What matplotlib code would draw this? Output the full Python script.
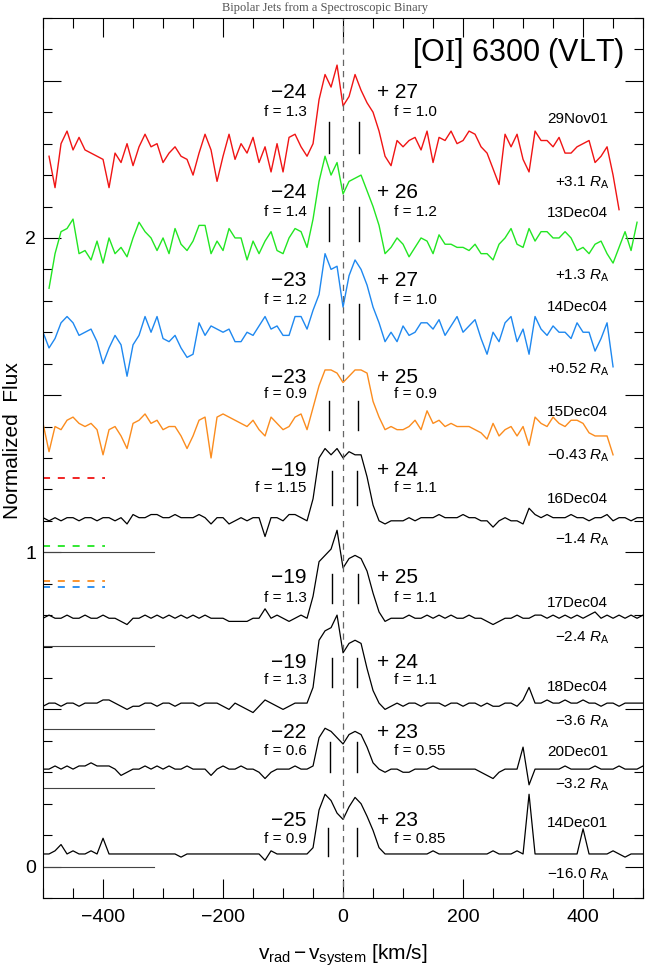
import numpy as np
import matplotlib
matplotlib.use("Agg")
import matplotlib.pyplot as plt
from matplotlib.ticker import MultipleLocator, FuncFormatter

plt.rcParams['font.family'] = ['Liberation Sans', 'DejaVu Sans']
plt.rcParams['mathtext.fontset'] = 'custom'
plt.rcParams['mathtext.rm'] = 'Liberation Serif'
plt.rcParams['mathtext.it'] = 'Liberation Sans:italic'
plt.rcParams['mathtext.sf'] = 'Liberation Sans'
plt.rcParams['mathtext.bf'] = 'Liberation Sans:bold'

# ---------------- data (flux sampled every 10 km/s) ----------------
red_v0 = -490
red_flux = [2.26, 2.16, 2.30, 2.34, 2.28, 2.32, 2.28, 2.27, 2.26, 2.25,
            2.16, 2.27, 2.24, 2.30, 2.23, 2.29, 2.33, 2.29, 2.30, 2.24,
            2.27, 2.29, 2.26, 2.25, 2.20, 2.27, 2.33, 2.28, 2.18, 2.26,
            2.33, 2.25, 2.30, 2.27, 2.32, 2.24, 2.29, 2.21, 2.30, 2.21,
            2.32, 2.33, 2.29, 2.26, 2.30, 2.44, 2.52, 2.48, 2.55, 2.42,
            2.45, 2.52, 2.47, 2.43, 2.40, 2.34, 2.26, 2.23, 2.31, 2.29,
            2.31, 2.32, 2.28, 2.34, 2.24, 2.32, 2.31, 2.34, 2.30, 2.31,
            2.34, 2.33, 2.29, 2.27, 2.22, 2.17, 2.33, 2.29, 2.33, 2.25,
            2.21, 2.34, 2.31, 2.31, 2.29, 2.32, 2.27, 2.27, 2.29, 2.30,
            2.31, 2.24, 2.26, 2.29, 2.20, 2.09]

green_v0 = -490
green_flux = [1.84, 1.95, 2.02, 2.03, 2.06, 1.95, 1.96, 1.93, 1.99, 1.92,
              2.00, 1.95, 1.97, 1.94, 2.00, 2.05, 2.02, 2.00, 1.96, 2.00,
              1.95, 2.03, 1.98, 1.96, 1.99, 2.04, 2.04, 1.95, 1.99, 1.96,
              2.03, 2.00, 2.00, 1.93, 1.99, 1.95, 1.99, 2.02, 1.96, 1.95,
              2.00, 2.03, 2.02, 1.97, 2.06, 2.18, 2.26, 2.20, 2.24, 2.14,
              2.18, 2.19, 2.20, 2.15, 2.10, 2.04, 1.95, 1.97, 2.00, 1.98,
              1.94, 1.97, 2.00, 1.99, 1.95, 2.01, 1.98, 1.98, 1.97, 1.97,
              1.96, 1.98, 1.95, 1.95, 1.93, 1.98, 2.00, 2.03, 1.98, 1.97,
              2.03, 1.99, 2.02, 2.02, 2.00, 2.00, 2.02, 2.00, 1.96, 1.97,
              1.95, 1.98, 1.99, 1.95, 1.92, 1.97, 2.02, 1.96, 2.05]

blue_v0 = -500
blue_flux = [1.70, 1.65, 1.68, 1.73, 1.75, 1.73, 1.69, 1.70, 1.71, 1.67,
             1.60, 1.65, 1.69, 1.66, 1.56, 1.66, 1.69, 1.75, 1.70, 1.75,
             1.68, 1.67, 1.69, 1.65, 1.62, 1.63, 1.73, 1.69, 1.72, 1.71,
             1.70, 1.71, 1.67, 1.67, 1.70, 1.69, 1.72, 1.75, 1.71, 1.72,
             1.69, 1.69, 1.75, 1.75, 1.71, 1.77, 1.82, 1.95, 1.90, 1.91,
             1.78, 1.88, 1.93, 1.90, 1.85, 1.78, 1.73, 1.67, 1.70, 1.67,
             1.72, 1.69, 1.70, 1.73, 1.73, 1.71, 1.74, 1.69, 1.72, 1.75,
             1.70, 1.72, 1.74, 1.68, 1.63, 1.70, 1.67, 1.73, 1.75, 1.67,
             1.71, 1.63, 1.75, 1.71, 1.69, 1.72, 1.70, 1.70, 1.68, 1.73,
             1.70, 1.70, 1.64, 1.68, 1.73, 1.59]

orange_v0 = -500
orange_flux = [1.41, 1.32, 1.40, 1.39, 1.42, 1.43, 1.41, 1.40, 1.41, 1.39,
               1.31, 1.39, 1.40, 1.37, 1.33, 1.41, 1.42, 1.44, 1.41, 1.42,
               1.39, 1.40, 1.40, 1.37, 1.33, 1.37, 1.42, 1.43, 1.30, 1.43,
               1.44, 1.43, 1.42, 1.41, 1.40, 1.42, 1.39, 1.37, 1.43, 1.41,
               1.39, 1.40, 1.43, 1.44, 1.39, 1.46, 1.53, 1.58, 1.58, 1.57,
               1.54, 1.56, 1.58, 1.58, 1.57, 1.48, 1.43, 1.39, 1.40, 1.39,
               1.39, 1.40, 1.42, 1.39, 1.45, 1.41, 1.42, 1.40, 1.41, 1.40,
               1.40, 1.40, 1.39, 1.38, 1.36, 1.41, 1.37, 1.39, 1.40, 1.37,
               1.40, 1.34, 1.43, 1.41, 1.40, 1.43, 1.41, 1.40, 1.42, 1.42,
               1.41, 1.38, 1.37, 1.37, 1.37, 1.31]

dec16_v0 = -500
dec16_flux = [1.11, 1.10, 1.11, 1.10, 1.11, 1.11, 1.10, 1.11, 1.11, 1.10,
              1.11, 1.11, 1.10, 1.11, 1.09, 1.12, 1.11, 1.11, 1.12, 1.12,
              1.11, 1.11, 1.12, 1.11, 1.11, 1.11, 1.12, 1.11, 1.09, 1.11,
              1.11, 1.09, 1.10, 1.11, 1.10, 1.11, 1.11, 1.05, 1.11, 1.11,
              1.10, 1.12, 1.12, 1.11, 1.10, 1.17, 1.30, 1.33, 1.31, 1.33,
              1.30, 1.32, 1.31, 1.31, 1.24, 1.15, 1.10, 1.09, 1.10, 1.10,
              1.10, 1.11, 1.10, 1.11, 1.11, 1.11, 1.12, 1.11, 1.11, 1.11,
              1.12, 1.11, 1.11, 1.10, 1.10, 1.08, 1.10, 1.11, 1.10, 1.10,
              1.09, 1.14, 1.12, 1.11, 1.12, 1.11, 1.11, 1.11, 1.12, 1.11,
              1.11, 1.10, 1.11, 1.11, 1.12, 1.10, 1.11, 1.11, 1.10, 1.11,
              1.11]

dec17_v0 = -500
dec17_flux = [0.79, 0.80, 0.79, 0.79, 0.80, 0.79, 0.79, 0.80, 0.79, 0.79,
              0.80, 0.79, 0.79, 0.78, 0.77, 0.79, 0.79, 0.80, 0.79, 0.80,
              0.79, 0.80, 0.79, 0.80, 0.79, 0.80, 0.79, 0.80, 0.79, 0.79,
              0.79, 0.78, 0.78, 0.78, 0.78, 0.79, 0.79, 0.82, 0.79, 0.80,
              0.79, 0.78, 0.79, 0.80, 0.79, 0.86, 0.97, 0.99, 1.01, 1.07,
              0.95, 0.98, 0.99, 0.98, 0.94, 0.87, 0.81, 0.78, 0.79, 0.79,
              0.79, 0.80, 0.79, 0.79, 0.80, 0.79, 0.80, 0.79, 0.80, 0.79,
              0.79, 0.80, 0.79, 0.79, 0.78, 0.77, 0.78, 0.79, 0.79, 0.80,
              0.79, 0.79, 0.80, 0.80, 0.79, 0.80, 0.79, 0.80, 0.79, 0.80,
              0.79, 0.80, 0.81, 0.79, 0.80, 0.79, 0.80, 0.79, 0.80, 0.79,
              0.80]

dec18_v0 = -500
dec18_flux = [0.51, 0.52, 0.52, 0.51, 0.52, 0.52, 0.51, 0.52, 0.52, 0.52,
              0.53, 0.53, 0.52, 0.51, 0.50, 0.51, 0.51, 0.52, 0.52, 0.51,
              0.52, 0.52, 0.51, 0.52, 0.52, 0.52, 0.51, 0.52, 0.52, 0.52,
              0.51, 0.50, 0.52, 0.51, 0.50, 0.49, 0.51, 0.53, 0.52, 0.51,
              0.50, 0.51, 0.52, 0.52, 0.52, 0.57, 0.72, 0.75, 0.76, 0.80,
              0.68, 0.71, 0.72, 0.71, 0.63, 0.56, 0.52, 0.50, 0.51, 0.52,
              0.51, 0.52, 0.52, 0.51, 0.52, 0.52, 0.52, 0.51, 0.52, 0.52,
              0.51, 0.52, 0.52, 0.51, 0.52, 0.51, 0.51, 0.52, 0.52, 0.51,
              0.53, 0.57, 0.52, 0.52, 0.53, 0.52, 0.52, 0.53, 0.52, 0.52,
              0.53, 0.52, 0.52, 0.51, 0.52, 0.52, 0.51, 0.52, 0.52, 0.52,
              0.52]

dec20_v0 = -500
dec20_flux = [0.31, 0.31, 0.32, 0.31, 0.32, 0.31, 0.32, 0.32, 0.33, 0.32,
              0.32, 0.32, 0.31, 0.29, 0.30, 0.31, 0.31, 0.32, 0.31, 0.32,
              0.31, 0.32, 0.31, 0.31, 0.32, 0.31, 0.31, 0.31, 0.29, 0.31,
              0.32, 0.31, 0.31, 0.32, 0.31, 0.31, 0.30, 0.28, 0.30, 0.31,
              0.31, 0.31, 0.32, 0.31, 0.31, 0.32, 0.41, 0.44, 0.43, 0.41,
              0.39, 0.42, 0.43, 0.42, 0.38, 0.33, 0.31, 0.30, 0.31, 0.31,
              0.30, 0.30, 0.31, 0.31, 0.31, 0.32, 0.31, 0.31, 0.31, 0.31,
              0.31, 0.31, 0.31, 0.30, 0.29, 0.28, 0.30, 0.31, 0.31, 0.31,
              0.38, 0.26, 0.31, 0.31, 0.31, 0.31, 0.31, 0.32, 0.31, 0.31,
              0.31, 0.31, 0.32, 0.31, 0.31, 0.31, 0.32, 0.31, 0.31, 0.31,
              0.32]

dec14_v0 = -500
dec14_flux = [0.04, 0.04, 0.05, 0.07, 0.04, 0.05, 0.04, 0.04, 0.05, 0.04,
              0.09, 0.04, 0.04, 0.04, 0.04, 0.04, 0.04, 0.04, 0.04, 0.04,
              0.04, 0.04, 0.04, 0.03, 0.04, 0.04, 0.04, 0.04, 0.04, 0.04,
              0.04, 0.04, 0.04, 0.04, 0.04, 0.04, 0.04, 0.02, 0.05, 0.04,
              0.04, 0.04, 0.04, 0.04, 0.04, 0.06, 0.18, 0.23, 0.21, 0.17,
              0.15, 0.19, 0.22, 0.20, 0.16, 0.115, 0.06, 0.04, 0.04, 0.04,
              0.04, 0.04, 0.04, 0.04, 0.04, 0.05, 0.04, 0.04, 0.04, 0.04,
              0.04, 0.04, 0.04, 0.04, 0.04, 0.05, 0.04, 0.04, 0.04, 0.05,
              0.04, 0.23, 0.04, 0.04, 0.04, 0.04, 0.04, 0.04, 0.04, 0.04,
              0.12, 0.04, 0.04, 0.04, 0.04, 0.05, 0.04, 0.03, 0.04, 0.04,
              0.04]

# per-spectrum annotations, top to bottom
blue_shift = [-24, -24, -23, -23, -19, -19, -19, -22, -25]
red_shift = [27, 26, 27, 25, 24, 25, 24, 23, 23]
f_blue = ["1.3", "1.4", "1.2", "0.9", "1.15", "1.3", "1.3", "0.6", "0.9"]
f_red = ["1.0", "1.2", "1.0", "0.9", "1.1", "1.1", "1.1", "0.55", "0.85"]
dates = ["29Nov01", "13Dec04", "14Dec04", "15Dec04", "16Dec04",
         "17Dec04", "18Dec04", "20Dec01", "14Dec01"]
phases = ["+3.1", "+1.3", "+0.52", "\u22120.43", "\u22121.4",
          "\u22122.4", "\u22123.6", "\u22123.2", "\u221216.0"]

# continuum reference levels on the left
zero_levels = [1.0, 0.703, 0.439, 0.251, 0.0]
dash_levels = [1.235, 1.02, 0.91, 0.888]

# ---------------- layout ----------------
c_red, c_green, c_blue, c_orange = '#f01414', '#22e622', '#1e88f0', '#fb8c1e'
spectra = [(red_v0, red_flux, c_red), (green_v0, green_flux, c_green),
           (blue_v0, blue_flux, c_blue), (orange_v0, orange_flux, c_orange),
           (dec16_v0, dec16_flux, 'k'), (dec17_v0, dec17_flux, 'k'),
           (dec18_v0, dec18_flux, 'k'), (dec20_v0, dec20_flux, 'k'),
           (dec14_v0, dec14_flux, 'k')]
dash_colors = [c_red, c_green, c_orange, c_blue]

num_y = [2.463, 2.144, 1.864, 1.556, 1.26, 0.92, 0.65, 0.426, 0.146]
f_y = [2.402, 2.084, 1.804, 1.502, 1.206, 0.856, 0.592, 0.369, 0.089]
date_y = [2.38, 2.08, 1.78, 1.445, 1.171, 0.84, 0.57, 0.363, 0.137]
ra_y = [2.18, 1.887, 1.585, 1.314, 1.047, 0.735, 0.465, 0.267, -0.02]
mark_lo = [2.27, 1.99, 1.68, 1.39, 1.15, 0.84, 0.57, 0.30, 0.035]
mark_hi = [2.37, 2.10, 1.79, 1.48, 1.26, 0.93, 0.665, 0.395, 0.124]

fig = plt.figure(figsize=(6.51, 9.75), dpi=100)
ax = fig.add_axes([0.0661, 0.0790, 0.9217, 0.9026])

for v0, flux, col in spectra:
    vel = v0 + 10 * np.arange(len(flux))
    ax.plot(vel, flux, color=col, lw=0.9 if col == 'k' else 1.0)

ax.axvline(0, color='#666666', lw=0.9, dashes=(5, 4))

for lev in zero_levels:
    ax.plot([-500, -315], [lev, lev], color='#444444', lw=0.8)
for lev, col in zip(dash_levels, dash_colors):
    ax.plot([-500, -397], [lev, lev], color=col, lw=1.3, dashes=(3.9, 4.3))

for i in range(len(dates)):
    ax.plot([blue_shift[i]] * 2, [mark_lo[i], mark_hi[i]], color='k', lw=1.0)
    ax.plot([red_shift[i]] * 2, [mark_lo[i], mark_hi[i]], color='k', lw=1.0)
    ax.text(-61, num_y[i], "\u2212%d" % abs(blue_shift[i]), fontsize=15,
            ha='right', va='center')
    ax.text(-61, f_y[i], "f = " + f_blue[i], fontsize=11, ha='right', va='center')
    ax.text(56, num_y[i], "+ %d" % red_shift[i], fontsize=15,
            ha='left', va='center')
    ax.text(85, f_y[i], "f = " + f_red[i], fontsize=11, ha='left', va='center')
    ax.text(442, date_y[i], dates[i], fontsize=11, ha='right', va='center')
    ax.text(444, ra_y[i] - 0.018, phases[i] + r" $R_{\mathsf{A}}$", fontsize=11,
            ha='right', va='baseline')

ax.text(468, 2.59, r"[O$\mathrm{I}$] 6300 (VLT)", fontsize=22,
        ha='right', va='center')

ax.set_xlim(-500, 500)
ax.set_ylim(-0.1, 2.7)
ax.xaxis.set_major_locator(MultipleLocator(200))
ax.xaxis.set_minor_locator(MultipleLocator(50))
ax.yaxis.set_major_locator(MultipleLocator(0.5))
ax.yaxis.set_minor_locator(MultipleLocator(0.1))
ax.xaxis.set_major_formatter(FuncFormatter(
    lambda v, p: ("%d" % v).replace('-', '\u2212')))
ax.yaxis.set_major_formatter(FuncFormatter(
    lambda v, p: "%d" % v if abs(v - round(v)) < 1e-6 else ""))
ax.tick_params(which='both', direction='in', top=True, right=True,
               width=0.8, labelsize=14)
ax.tick_params(axis='x', which='major', length=14, pad=8)
ax.tick_params(axis='x', which='minor', length=7)
ax.tick_params(axis='y', which='major', length=13, pad=5)
ax.tick_params(axis='y', which='minor', length=6.5)
for s in ax.spines.values():
    s.set_linewidth(0.8)

fig.text(0.527, 0.0205,
         r"$\mathsf{v}_{\mathsf{rad}}\,\mathsf{-}\,\mathsf{v}_{\mathsf{system}}$ [km/s]",
         fontsize=15, ha='center', va='center')
fig.text(0.019, 0.548, "Normalized  Flux", fontsize=15, rotation=90,
         ha='center', va='center')
fig.text(0.5, 0.992, "Bipolar Jets from a Spectroscopic Binary",
         family='Liberation Serif', fontsize=9, color='#555555',
         ha='center', va='center')

fig.savefig("out.png", dpi=100)
